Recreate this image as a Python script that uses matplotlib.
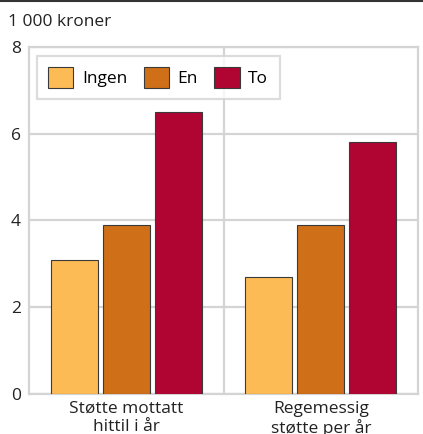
import matplotlib
matplotlib.use("Agg")
import matplotlib.pyplot as plt
from matplotlib.patches import Patch
import numpy as np

categories = ["Støtte mottatt\nhittil i år", "Regemessig\nstøtte per år"]
series = ["Ingen", "En", "To"]
ingen = [3.1, 2.7]
en = [3.9, 3.9]
to = [6.5, 5.8]
colors = ["#FDBB55", "#CF6F17", "#B00433"]
yticks = [0, 2, 4, 6, 8]

plt.rcParams["font.family"] = ["Open Sans", "DejaVu Sans"]
grid_col = "#d4d4d4"
fs = 12.5

fig = plt.figure(figsize=(4.23, 4.34), dpi=100)
ax = fig.add_axes([29 / 423, 1 - 394 / 434, 389 / 423, 347 / 434])

x = np.arange(len(categories))
width = 0.24
step = 0.267
for i, (vals, col) in enumerate(zip([ingen, en, to], colors)):
    ax.bar(x + (i - 1) * step, vals, width, color=col, edgecolor="#3a3a3a",
           linewidth=0.8, zorder=3)

ax.set_xlim(-0.5, 1.5)
ax.set_ylim(0, 8)
ax.set_yticks(yticks)
ax.set_xticks(x)
ax.set_xticklabels(categories, fontsize=fs, linespacing=1.15)
ax.tick_params(axis="both", length=0, labelsize=fs, colors="#222222")
ax.tick_params(axis="y", pad=6)
ax.tick_params(axis="x", pad=5)
ax.yaxis.grid(True, color=grid_col, linewidth=1.6, zorder=0)
ax.axvline(0.5, color=grid_col, linewidth=1.6, zorder=0)
for s in ax.spines.values():
    s.set_color(grid_col)
    s.set_linewidth(1.6)

handles = [Patch(facecolor=c, edgecolor="#3a3a3a", linewidth=0.8) for c in colors]
leg = ax.legend(handles, series, loc="upper left", ncol=3, fontsize=fs,
                bbox_to_anchor=(0.02, 0.974), frameon=True, fancybox=False,
                handlelength=1.45, handleheight=1.45, handletextpad=0.5,
                columnspacing=0.95, borderpad=0.65, borderaxespad=0)
leg.get_frame().set_edgecolor(grid_col)
leg.get_frame().set_linewidth(1.6)
leg.set_zorder(5)

fig.text(8 / 423, 1 - 22 / 434, "1 000 kroner", fontsize=fs, va="center",
         ha="left", color="#222222")
fig.add_artist(plt.Line2D([0, 1], [1 - 0.5 / 434, 1 - 0.5 / 434],
                          color="#333333", linewidth=1.5))

fig.savefig("out.png", dpi=100)
